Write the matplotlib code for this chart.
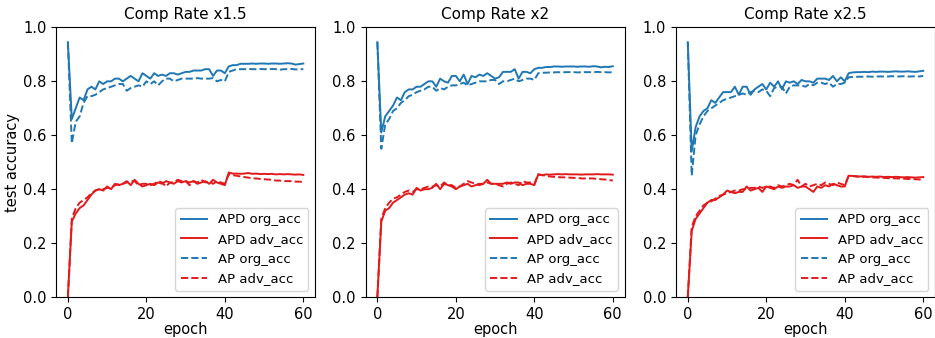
import numpy as np
import matplotlib.pyplot as plt

epochs = np.arange(61)
titles = ["Comp Rate x1.5", "Comp Rate x2", "Comp Rate x2.5"]

# x1.5
apd_org_15 = [0.945, 0.66, 0.70, 0.74, 0.73, 0.77, 0.78, 0.77, 0.80, 0.79,
              0.80, 0.80, 0.81, 0.81, 0.80, 0.81, 0.82, 0.81, 0.80, 0.83,
              0.82, 0.81, 0.83, 0.82, 0.825, 0.82, 0.83, 0.83, 0.825, 0.83,
              0.835, 0.835, 0.84, 0.84, 0.84, 0.845, 0.845, 0.82, 0.84, 0.84,
              0.83, 0.855, 0.86, 0.86, 0.865, 0.865, 0.865, 0.866, 0.865, 0.866,
              0.866, 0.865, 0.866, 0.866, 0.865, 0.866, 0.867, 0.866, 0.862, 0.864,
              0.866]
ap_org_15 = [0.945, 0.57, 0.65, 0.67, 0.72, 0.745, 0.745, 0.75, 0.76, 0.77,
             0.775, 0.78, 0.785, 0.79, 0.79, 0.765, 0.775, 0.78, 0.785, 0.78,
             0.80, 0.79, 0.80, 0.785, 0.80, 0.81, 0.81, 0.80, 0.805, 0.81,
             0.81, 0.81, 0.81, 0.812, 0.81, 0.81, 0.81, 0.812, 0.80, 0.805,
             0.80, 0.835, 0.84, 0.845, 0.845, 0.845, 0.846, 0.845, 0.845, 0.846,
             0.845, 0.845, 0.846, 0.845, 0.843, 0.845, 0.845, 0.846, 0.844, 0.845,
             0.845]
apd_adv_15 = [0.0, 0.28, 0.31, 0.33, 0.34, 0.36, 0.38, 0.395, 0.40, 0.395,
              0.41, 0.40, 0.42, 0.415, 0.42, 0.43, 0.415, 0.435, 0.42, 0.41,
              0.415, 0.42, 0.415, 0.425, 0.42, 0.43, 0.425, 0.42, 0.43, 0.425,
              0.43, 0.425, 0.43, 0.42, 0.425, 0.43, 0.42, 0.435, 0.425, 0.42,
              0.415, 0.462, 0.458, 0.458, 0.457, 0.458, 0.46, 0.457, 0.458, 0.456,
              0.457, 0.456, 0.457, 0.455, 0.456, 0.455, 0.456, 0.455, 0.454, 0.455,
              0.453]
ap_adv_15 = [0.0, 0.29, 0.33, 0.35, 0.36, 0.37, 0.385, 0.395, 0.40, 0.40,
             0.405, 0.405, 0.415, 0.42, 0.42, 0.425, 0.43, 0.43, 0.415, 0.42,
             0.42, 0.415, 0.42, 0.43, 0.425, 0.41, 0.425, 0.425, 0.435, 0.43,
             0.43, 0.415, 0.43, 0.425, 0.435, 0.425, 0.43, 0.42, 0.43, 0.425,
             0.42, 0.455, 0.452, 0.45, 0.447, 0.445, 0.443, 0.44, 0.44, 0.438,
             0.437, 0.436, 0.435, 0.432, 0.432, 0.43, 0.43, 0.43, 0.428, 0.428,
             0.426]

# x2
apd_org_2 = [0.945, 0.61, 0.67, 0.69, 0.71, 0.74, 0.73, 0.76, 0.77, 0.77,
             0.78, 0.78, 0.79, 0.80, 0.80, 0.78, 0.81, 0.80, 0.795, 0.82,
             0.82, 0.80, 0.825, 0.79, 0.82, 0.815, 0.825, 0.82, 0.83, 0.82,
             0.81, 0.815, 0.835, 0.835, 0.835, 0.845, 0.81, 0.835, 0.835, 0.83,
             0.845, 0.85, 0.85, 0.853, 0.853, 0.855, 0.855, 0.854, 0.855, 0.855,
             0.855, 0.854, 0.855, 0.855, 0.854, 0.856, 0.855, 0.852, 0.854, 0.853,
             0.856]
ap_org_2 = [0.945, 0.55, 0.64, 0.66, 0.69, 0.70, 0.72, 0.73, 0.745, 0.75,
            0.76, 0.765, 0.77, 0.78, 0.78, 0.765, 0.775, 0.77, 0.78, 0.785,
            0.785, 0.79, 0.795, 0.785, 0.79, 0.795, 0.80, 0.80, 0.80, 0.805,
            0.805, 0.79, 0.80, 0.80, 0.805, 0.81, 0.80, 0.805, 0.81, 0.81,
            0.805, 0.83, 0.832, 0.832, 0.833, 0.833, 0.834, 0.833, 0.834, 0.834,
            0.834, 0.833, 0.834, 0.834, 0.834, 0.834, 0.835, 0.834, 0.834, 0.833,
            0.834]
apd_adv_2 = [0.0, 0.28, 0.32, 0.33, 0.35, 0.36, 0.37, 0.38, 0.385, 0.38,
             0.405, 0.395, 0.40, 0.40, 0.405, 0.42, 0.40, 0.42, 0.415, 0.41,
             0.40, 0.41, 0.415, 0.42, 0.41, 0.415, 0.42, 0.42, 0.435, 0.42,
             0.42, 0.42, 0.42, 0.425, 0.42, 0.425, 0.425, 0.415, 0.42, 0.42,
             0.415, 0.455, 0.452, 0.455, 0.454, 0.455, 0.456, 0.455, 0.456, 0.455,
             0.455, 0.455, 0.454, 0.455, 0.455, 0.455, 0.456, 0.455, 0.455, 0.455,
             0.454]
ap_adv_2 = [0.0, 0.29, 0.33, 0.35, 0.365, 0.37, 0.38, 0.39, 0.395, 0.39,
            0.40, 0.40, 0.405, 0.41, 0.41, 0.415, 0.41, 0.425, 0.415, 0.415,
            0.405, 0.41, 0.42, 0.43, 0.425, 0.42, 0.415, 0.42, 0.425, 0.42,
            0.42, 0.415, 0.41, 0.42, 0.425, 0.42, 0.415, 0.43, 0.425, 0.425,
            0.42, 0.455, 0.452, 0.45, 0.447, 0.446, 0.445, 0.444, 0.444, 0.443,
            0.442, 0.442, 0.44, 0.44, 0.44, 0.44, 0.438, 0.437, 0.436, 0.434,
            0.432]

# x2.5
apd_org_25 = [0.945, 0.54, 0.63, 0.67, 0.69, 0.70, 0.73, 0.72, 0.74, 0.76,
              0.76, 0.76, 0.78, 0.75, 0.78, 0.78, 0.75, 0.77, 0.78, 0.79,
              0.77, 0.795, 0.78, 0.80, 0.77, 0.80, 0.795, 0.80, 0.79, 0.805,
              0.80, 0.80, 0.795, 0.81, 0.81, 0.81, 0.805, 0.82, 0.80, 0.815,
              0.80, 0.83, 0.833, 0.834, 0.834, 0.835, 0.834, 0.836, 0.835, 0.836,
              0.836, 0.835, 0.836, 0.837, 0.836, 0.836, 0.837, 0.836, 0.835, 0.837,
              0.839]
ap_org_25 = [0.945, 0.45, 0.60, 0.64, 0.67, 0.69, 0.70, 0.71, 0.72, 0.73,
             0.735, 0.74, 0.745, 0.75, 0.755, 0.75, 0.76, 0.765, 0.76, 0.77,
             0.765, 0.745, 0.775, 0.78, 0.78, 0.755, 0.78, 0.785, 0.785, 0.785,
             0.78, 0.79, 0.785, 0.795, 0.795, 0.79, 0.795, 0.78, 0.79, 0.79,
             0.795, 0.815, 0.816, 0.817, 0.817, 0.817, 0.818, 0.817, 0.818, 0.818,
             0.818, 0.818, 0.819, 0.818, 0.818, 0.819, 0.818, 0.818, 0.819, 0.818,
             0.82]
apd_adv_25 = [0.0, 0.245, 0.29, 0.31, 0.33, 0.35, 0.36, 0.36, 0.37, 0.38,
              0.395, 0.39, 0.385, 0.39, 0.39, 0.41, 0.395, 0.40, 0.405, 0.39,
              0.41, 0.405, 0.40, 0.41, 0.405, 0.41, 0.41, 0.415, 0.405, 0.41,
              0.41, 0.40, 0.39, 0.41, 0.405, 0.415, 0.41, 0.42, 0.415, 0.41,
              0.41, 0.45, 0.449, 0.448, 0.447, 0.448, 0.446, 0.447, 0.446, 0.447,
              0.445, 0.446, 0.445, 0.446, 0.445, 0.444, 0.445, 0.444, 0.443, 0.444,
              0.445]
ap_adv_25 = [0.0, 0.26, 0.30, 0.32, 0.34, 0.35, 0.355, 0.365, 0.375, 0.38,
             0.385, 0.39, 0.395, 0.395, 0.40, 0.40, 0.405, 0.405, 0.41, 0.405,
             0.41, 0.41, 0.405, 0.415, 0.41, 0.415, 0.42, 0.415, 0.435, 0.41,
             0.42, 0.41, 0.415, 0.42, 0.415, 0.425, 0.42, 0.415, 0.425, 0.42,
             0.415, 0.45, 0.449, 0.447, 0.446, 0.446, 0.445, 0.444, 0.443, 0.443,
             0.442, 0.441, 0.441, 0.44, 0.44, 0.439, 0.438, 0.438, 0.437, 0.436,
             0.435]

panels = [
    (apd_org_15, apd_adv_15, ap_org_15, ap_adv_15),
    (apd_org_2, apd_adv_2, ap_org_2, ap_adv_2),
    (apd_org_25, apd_adv_25, ap_org_25, ap_adv_25),
]

blue = "#1f77b4"
red = "#e31a1c"

plt.rcParams["font.size"] = 10.5
fig = plt.figure(figsize=(9.35, 3.38), dpi=100)
lefts = [0.060, 0.391, 0.723]
for i, (apd_org, apd_adv, ap_org, ap_adv) in enumerate(panels):
    ax = fig.add_axes([lefts[i], 0.121, 0.277, 0.798])
    ax.plot(epochs, apd_org, color=blue, lw=1.4, label="APD org_acc")
    ax.plot(epochs, apd_adv, color=red, lw=1.4, label="APD adv_acc")
    ax.plot(epochs, ap_org, color=blue, lw=1.4, ls="--", label="AP org_acc")
    ax.plot(epochs, ap_adv, color=red, lw=1.4, ls="--", label="AP adv_acc")
    ax.set_ylim(0, 1.0)
    ax.set_xticks([0, 20, 40, 60])
    ax.set_title(titles[i], fontsize=11)
    ax.set_xlabel("epoch", labelpad=0)
    if i == 0:
        ax.set_ylabel("test accuracy", labelpad=2)
    ax.legend(loc="lower right", fontsize=9.5)

fig.savefig("out.png", dpi=100)
